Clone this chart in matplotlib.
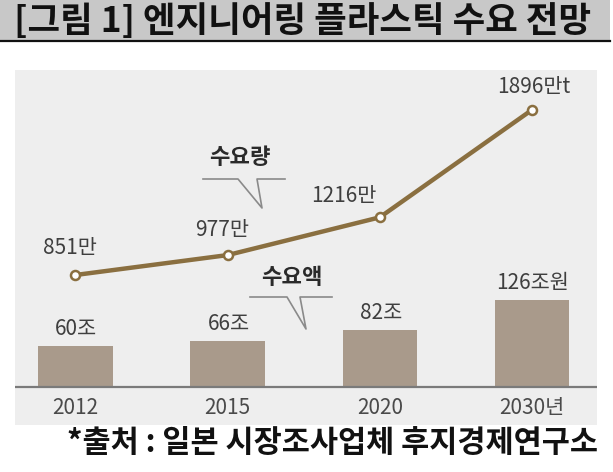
import matplotlib
matplotlib.use("Agg")
import matplotlib.pyplot as plt
from matplotlib.patches import Rectangle
from matplotlib.lines import Line2D

plt.rcParams['font.family'] = ['Noto Sans CJK KR', 'DejaVu Sans']

# ---- data ----
years = ["2012", "2015", "2020", "2030년"]
demand_amount = [60, 66, 82, 126]          # 수요액 (조원)
amount_labels = ["60조", "66조", "82조", "126조원"]
demand_volume = [851, 977, 1216, 1896]     # 수요량 (만t)
volume_labels = ["851만", "977만", "1216만", "1896만t"]

title = "[그림 1] 엔지니어링 플라스틱 수요 전망"
source = "*출처 : 일본 시장조사업체 후지경제연구소"

W, H = 613, 472
fig = plt.figure(figsize=(W / 100, H / 100), dpi=100)
fig.patch.set_facecolor('white')

def fx(px):
    return px / W

def fy(py):
    return 1 - py / H

# title bar
fig.patches.append(Rectangle((0, fy(40)), fx(610), 40 / H, transform=fig.transFigure,
                             facecolor='#c8c8c8', edgecolor='none', zorder=0))
fig.lines.append(Line2D([0, fx(610)], [fy(41), fy(41)], transform=fig.transFigure,
                        color='#111111', lw=1.6))
fig.text(fx(14), fy(21), title, ha='left', va='center', fontsize=25.5,
         fontweight='bold', color='#111111')

# chart panel
ax = fig.add_axes([fx(15), fy(425), 582 / W, 355 / H])
ax.set_facecolor('#eeeeee')
x = list(range(len(years)))
bar_color = '#a99a8b'
ax.bar(x, demand_amount, width=0.49, color=bar_color, zorder=2)
ax.axhline(0, color='#7a7a7a', lw=1.6, zorder=3)
ax.set_xlim(-0.397, 3.427)
ax.set_ylim(-55.1, 459.4)
ax.set_yticks([])
ax.set_xticks([])
for s in ax.spines.values():
    s.set_visible(False)

for xi, yr in zip(x, years):
    ax.annotate(yr, (xi, 0), xytext=(0, -21), textcoords='offset pixels',
                ha='center', va='center', fontsize=15, color='#4a4a4a', zorder=5)

for xi, v, lab in zip(x, demand_amount, amount_labels):
    ax.annotate(lab, (xi, v), xytext=(1, 17), textcoords='offset pixels',
                ha='center', va='center', fontsize=15, color='#3f3f3f', zorder=5)

# line on twin axis
ax2 = ax.twinx()
ax2.set_ylim(-98, 2148)
ax2.set_yticks([])
for s in ax2.spines.values():
    s.set_visible(False)
line_color = '#8a6f40'
ax2.plot(x, demand_volume, color=line_color, lw=3.2, zorder=3,
         marker='o', markersize=6.5, markerfacecolor='white',
         markeredgecolor=line_color, markeredgewidth=1.8, solid_capstyle='round')

vol_offsets = [(-5, 27), (-5, 25), (-36, 21), (2, 23)]
for xi, v, lab, off in zip(x, demand_volume, volume_labels, vol_offsets):
    ax2.annotate(lab, (xi, v), xytext=off, textcoords='offset pixels',
                 ha='center', va='center', fontsize=15, color='#3f3f3f', zorder=5)

# callout labels with speech-bubble lines
def callout(text, cx, cy, x0, x1, ly, g0, g1, tip):
    fig.text(fx(cx), fy(cy), text, ha='center', va='center', fontsize=16,
             fontweight='bold', color='#2a2a2a')
    kw = dict(transform=fig.transFigure, color='#8a8a8a', lw=1.2)
    fig.lines.append(Line2D([fx(x0), fx(g0), fx(tip[0]), fx(g1), fx(x1)],
                            [fy(ly), fy(ly), fy(tip[1]), fy(ly), fy(ly)], **kw))

callout("수요량", 240, 158, 203, 285, 179, 238, 257, (262, 208))
callout("수요액", 292, 277, 250, 332, 297, 287, 300, (306, 329))

# source
fig.text(fx(598), fy(443), source, ha='right', va='center', fontsize=22,
         fontweight='bold', color='#111111')

fig.savefig("out.png", dpi=100)
